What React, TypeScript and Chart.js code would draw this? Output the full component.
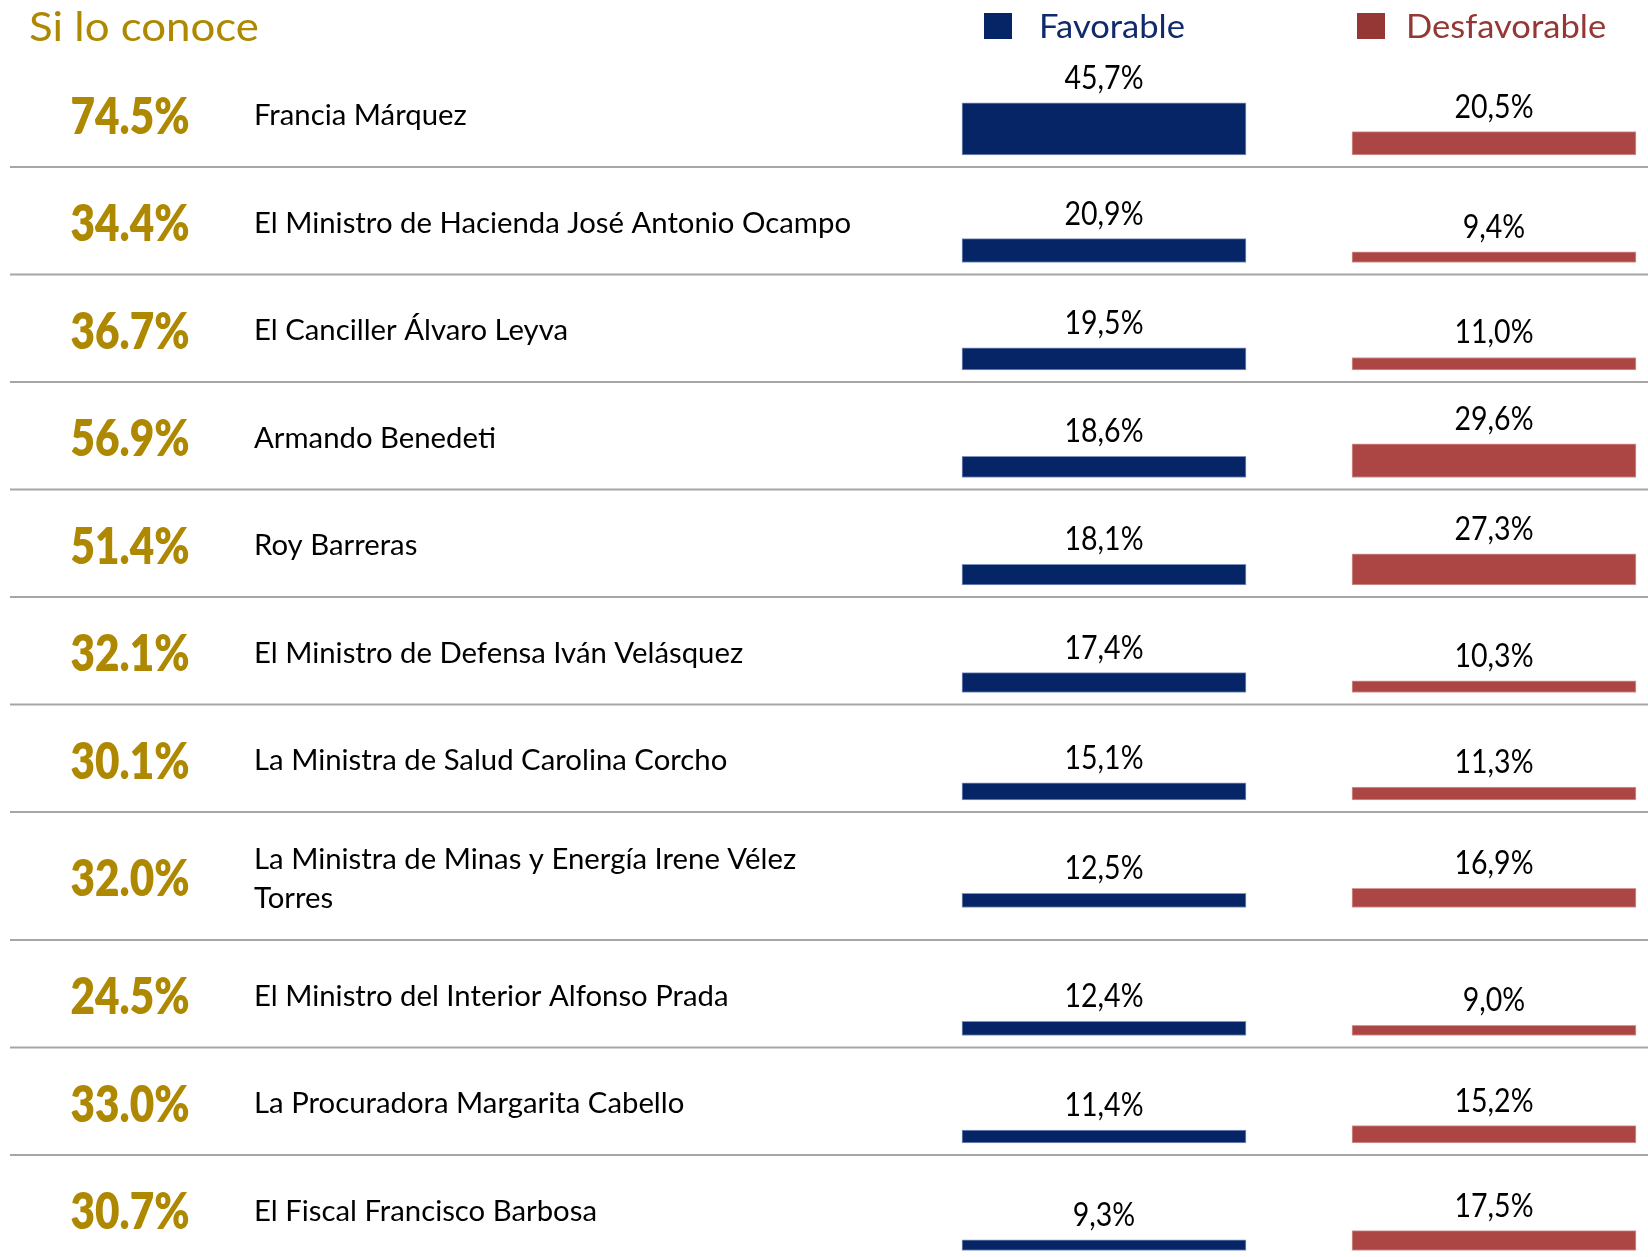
import React, { useEffect, useRef } from "react";
import { Chart, registerables } from "chart.js";

Chart.register(...registerables);

// ---------- data ----------
const TITLE = "Si lo conoce";
const SERIES_LABELS = ["Favorable", "Desfavorable"];
const NAMES = [
  "Francia Márquez",
  "El Ministro de Hacienda José Antonio Ocampo",
  "El Canciller Álvaro Leyva",
  "Armando Benedeti",
  "Roy Barreras",
  "El Ministro de Defensa Iván Velásquez",
  "La Ministra de Salud Carolina Corcho",
  "La Ministra de Minas y Energía Irene Vélez\nTorres",
  "El Ministro del Interior Alfonso Prada",
  "La Procuradora Margarita Cabello",
  "El Fiscal Francisco Barbosa",
];
const KNOWN = [74.5, 34.4, 36.7, 56.9, 51.4, 32.1, 30.1, 32.0, 24.5, 33.0, 30.7];
const FAVORABLE = [45.7, 20.9, 19.5, 18.6, 18.1, 17.4, 15.1, 12.5, 12.4, 11.4, 9.3];
const DESFAVORABLE = [20.5, 9.4, 11.0, 29.6, 27.3, 10.3, 11.3, 16.9, 9.0, 15.2, 17.5];

// ---------- layout / style ----------
const W = 1648;
const H = 1257;
const PX_PER_PCT = 1.14;
const FIRST_ROW_TOP = 59.5;
const ROW_H = 107.5;
const ROW_H_TALL = 128;
const BAR_BASE_OFFSET = 95.5;
const FAV_CENTER_X = 1104;
const DESF_CENTER_X = 1494;
const BAR_W = 284;

const GOLD = "#AD8800";
const FAV_COLOR = "#062566";
const FAV_BORDER = "#7F93BE";
const DESF_COLOR = "#AB4644";
const DESF_BORDER = "#D59896";
const FAV_LEGEND_TEXT = "#0F2B6B";
const DESF_LEGEND = "#953735";
const SEP_COLOR = "#A6A6A6";
const FONT = "Lato, 'Open Sans', sans-serif";
const CAP = 0.7165;

function rowLayout() {
  const rows: { top: number; h: number }[] = [];
  let t = FIRST_ROW_TOP;
  NAMES.forEach((n) => {
    const h = n.includes("\n") ? ROW_H_TALL : ROW_H;
    rows.push({ top: t, h });
    t += h;
  });
  return rows;
}

function drawText(
  ctx: CanvasRenderingContext2D,
  s: string,
  x: number,
  y: number,
  font: string,
  color: string,
  align: CanvasTextAlign,
  sx: number
) {
  ctx.save();
  ctx.translate(x, y);
  ctx.scale(sx, 1);
  ctx.font = font;
  ctx.fillStyle = color;
  ctx.textAlign = align;
  ctx.textBaseline = "alphabetic";
  ctx.fillText(s, 0, 0);
  ctx.restore();
}

function fit(ctx: CanvasRenderingContext2D, font: string, sample: string, target: number) {
  ctx.save();
  ctx.font = font;
  const w = ctx.measureText(sample).width;
  ctx.restore();
  return w > 0 ? target / w : 1;
}

const fmtComma = (v: number) => v.toFixed(1).replace(".", ",") + "%";
const fmtDot = (v: number) => v.toFixed(1) + "%";

export default function App() {
  const ref = useRef<HTMLCanvasElement>(null);

  useEffect(() => {
    document.body.style.margin = "0";
    document.body.style.overflow = "hidden";
    const canvas = ref.current!;
    const rows = rowLayout();
    const bases = rows.map((r) => (r.top + BAR_BASE_OFFSET) / PX_PER_PCT);

    const tablePlugin = {
      id: "tablePlugin",
      afterDatasetsDraw(chart: any) {
        const ctx: CanvasRenderingContext2D = chart.ctx;
        const titleSize = 41;
        const legendSize = 33;
        const nameSize = 28;
        const knownSize = 51;
        const valSize = 32;
        const titleFont = `${titleSize}px ${FONT}`;
        const legendFont = `${legendSize}px ${FONT}`;
        const nameFont = `${nameSize}px ${FONT}`;
        const knownFont = `800 ${knownSize}px ${FONT}`;
        const valFont = `${valSize}px ${FONT}`;
        const titleSX = fit(ctx, titleFont, "Si lo conoce", 230);
        const legendSX = fit(ctx, legendFont, "Favorable", 146);
        const nameSX = fit(ctx, nameFont, "El Ministro de Hacienda José Antonio Ocampo", 597);
        const knownSX = fit(ctx, knownFont, "74.5%", 119);
        const valSX = fit(ctx, valFont, "45,7%", 79);

        // title
        drawText(ctx, TITLE, 29, 26 + (titleSize * CAP) / 2, titleFont, GOLD, "left", titleSX);

        // legend
        const ds = chart.data.datasets;
        ctx.save();
        ctx.fillStyle = ds[0].backgroundColor;
        ctx.fillRect(984, 13, 28, 26);
        ctx.fillStyle = DESF_LEGEND;
        ctx.fillRect(1357, 13, 28, 26);
        ctx.restore();
        drawText(ctx, ds[0].label, 1039, 26 + (legendSize * CAP) / 2, legendFont, FAV_LEGEND_TEXT, "left", legendSX);
        drawText(ctx, ds[1].label, 1406, 26 + (legendSize * CAP) / 2, legendFont, DESF_LEGEND, "left", legendSX);

        // rows
        rows.forEach((r, i) => {
          const c = r.top + r.h / 2 + 2;
          drawText(ctx, fmtDot(KNOWN[i]), 130, c + (knownSize * CAP) / 2, knownFont, GOLD, "center", knownSX);
          const lines = NAMES[i].split("\n");
          const lh = 39;
          lines.forEach((ln, k) => {
            const ly = c + (k - (lines.length - 1) / 2) * lh;
            drawText(ctx, ln, 254, ly + (nameSize * CAP) / 2, nameFont, "#000000", "left", nameSX);
          });
          if (i < rows.length - 1) {
            ctx.save();
            ctx.strokeStyle = SEP_COLOR;
            ctx.lineWidth = 2;
            ctx.beginPath();
            ctx.moveTo(10, r.top + r.h);
            ctx.lineTo(W, r.top + r.h);
            ctx.stroke();
            ctx.restore();
          }
        });

        // value labels
        const series = [FAVORABLE, DESFAVORABLE];
        chart.data.datasets.forEach((_d: any, di: number) => {
          const meta = chart.getDatasetMeta(di);
          meta.data.forEach((el: any, i: number) => {
            const p = el.getProps(["x", "y", "base"], true);
            const top = Math.min(p.y, p.base);
            drawText(ctx, fmtComma(series[di][i]), p.x, top - 14, valFont, "#000000", "center", valSX);
          });
        });
      },
    };

    const chart = new Chart(canvas, {
      type: "bar",
      data: {
        labels: SERIES_LABELS,
        datasets: [
          {
            label: SERIES_LABELS[0],
            data: FAVORABLE.map((v, i) => ({ x: SERIES_LABELS[0], y: [bases[i] - v, bases[i]] })) as any,
            backgroundColor: FAV_COLOR,
            borderColor: FAV_BORDER,
            borderWidth: 1,
            borderSkipped: false,
            barThickness: BAR_W,
            grouped: false,
            clip: false as any,
          },
          {
            label: SERIES_LABELS[1],
            data: DESFAVORABLE.map((v, i) => ({ x: SERIES_LABELS[1], y: [bases[i] - v, bases[i]] })) as any,
            backgroundColor: DESF_COLOR,
            borderColor: DESF_BORDER,
            borderWidth: 1,
            borderSkipped: false,
            barThickness: BAR_W,
            grouped: false,
            clip: false as any,
          },
        ],
      },
      options: {
        responsive: false,
        animation: false,
        layout: { padding: { left: FAV_CENTER_X, right: W - DESF_CENTER_X, top: 0, bottom: 0 } },
        scales: {
          x: { type: "category", offset: false, display: false },
          y: { type: "linear", min: 0, max: H / PX_PER_PCT, reverse: true, display: false },
        },
        plugins: { legend: { display: false }, tooltip: { enabled: false } },
      },
      plugins: [tablePlugin],
    });
    return () => chart.destroy();
  }, []);

  return <canvas ref={ref} width={W} height={H} style={{ display: "block" }} />;
}
